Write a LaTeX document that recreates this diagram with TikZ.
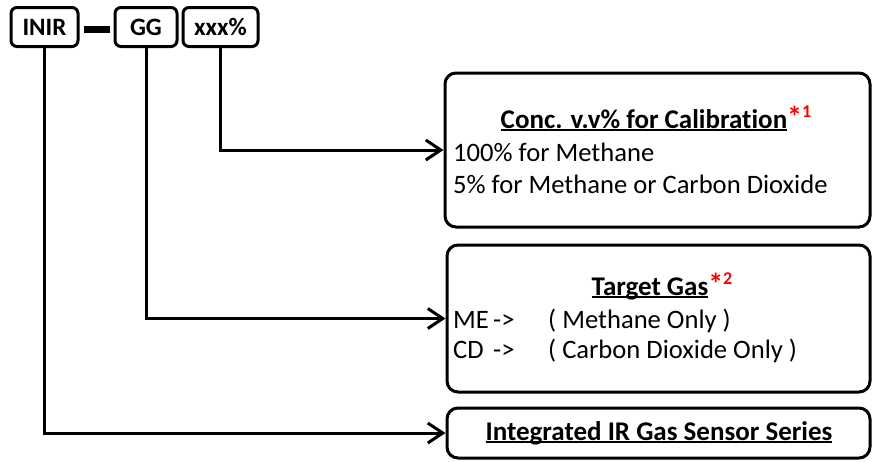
\documentclass[tikz,border=0pt]{standalone}
\usepackage{fontspec}
\setmainfont[Ligatures=NoCommon]{Carlito}
\usetikzlibrary{arrows.meta}
\newcommand\ulx[1]{\setbox0\hbox{#1}\rlap{\rule[-3pt]{\wd0}{1.6pt}}\box0}
\newcommand\redmark[1]{{\color{red}\bfseries\fontsize{30}{30}\selectfont\raisebox{1pt}{*}\fontsize{18}{18}\selectfont\raisebox{11pt}{#1}}}
\begin{document}
\begin{tikzpicture}[x=1pt,y=-1pt,
  smallbox/.style={draw,line width=3pt,rounded corners=6pt,minimum height=39pt,inner sep=0pt,font=\fontsize{25}{25}\selectfont\bfseries},
  bigbox/.style={draw,line width=3pt,rounded corners=11pt,inner sep=0pt,fill=white},
  txt/.style={inner sep=0pt,anchor=base west,font=\fontsize{26.6}{26.6}\selectfont},
  ttl/.style={inner sep=0pt,anchor=base,font=\fontsize{27}{27}\selectfont\bfseries},
  arr/.style={line width=3pt,-{Straight Barb[length=15pt,width=20pt,line width=3pt]}}]
\useasboundingbox (0,0) rectangle (873,461);
% top code boxes
\node[smallbox,minimum width=67pt] (inir) at (44.5,27) {INIR};
\node[fill,minimum width=26pt,minimum height=7pt,inner sep=0pt] (hyph) at (97,29) {};
\node[smallbox,minimum width=62pt] (gg) at (146,27) {GG};
\node[smallbox,minimum width=75pt] (xxx) at (220.5,27) {xxx\%};
% description boxes
\node[bigbox,minimum width=425pt,minimum height=154pt] (conc) at (657.5,150) {};
\node[bigbox,minimum width=423pt,minimum height=147pt] (target) at (658.5,318.5) {};
\node[bigbox,minimum width=423pt,minimum height=50pt] (integ) at (658.5,433) {};
% texts
\node[ttl] (concT) at (656,128) {\ulx{Conc. v.v\% for Calibration}\redmark{1}};
\node[txt] (conc1) at (453,161) {100\% for Methane};
\node[txt] (conc2) at (453,193) {5\% for Methane or Carbon Dioxide};
\node[ttl] (targT) at (662,295) {\ulx{Target Gas}\redmark{2}};
\node[txt] (me) at (453,328) {\makebox[40pt][l]{ME}->};
\node[txt] (meD) at (548,328) {( Methane Only )};
\node[txt] (cd) at (453,358) {\makebox[40pt][l]{CD}->};
\node[txt] (cdD) at (548,358) {( Carbon Dioxide Only )};
\node[ttl] (integT) at (659,440) {\ulx{Integrated IR Gas Sensor Series}};
% connectors
\draw[arr] (xxx.south) |- (conc.west);
\draw[arr] (gg.south) |- (target.west);
\draw[arr] (inir.south) |- (integ.west);
\end{tikzpicture}
\end{document}
